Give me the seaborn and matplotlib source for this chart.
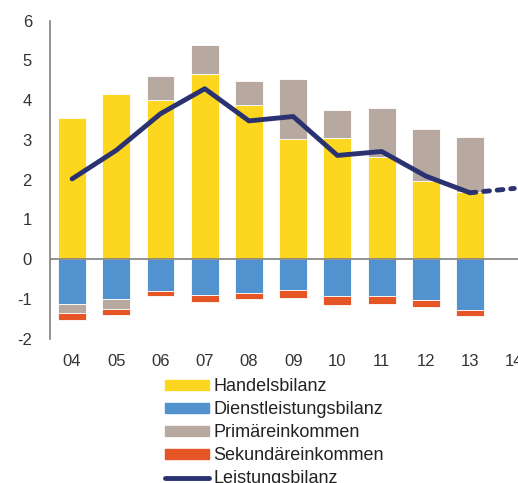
import matplotlib
matplotlib.use("Agg")
import matplotlib.pyplot as plt
import seaborn as sns
import numpy as np
import pandas as pd
from matplotlib.patches import Patch
from matplotlib.lines import Line2D

years = ["04", "05", "06", "07", "08", "09", "10", "11", "12", "13"]
tick_labels = ["04", "05", "06", "07", "08", "09", "10", "11", "12", "13", "14"]
handel = [3.54, 4.16, 4.00, 4.65, 3.87, 3.02, 3.06, 2.57, 1.96, 1.68]
dienst = [-1.12, -1.01, -0.80, -0.91, -0.85, -0.78, -0.93, -0.94, -1.03, -1.29]
primaer = [-0.24, -0.25, 0.60, 0.73, 0.61, 1.51, 0.69, 1.23, 1.31, 1.40]
sekundaer = [-0.16, -0.15, -0.13, -0.18, -0.16, -0.19, -0.23, -0.19, -0.18, -0.13]
leistung = [2.02, 2.74, 3.66, 4.29, 3.48, 3.59, 2.61, 2.71, 2.09, 1.67]
forecast_x = ["13", "14"]
forecast_y = [1.67, 1.78]

C_HANDEL = "#FDD71F"
C_DIENST = "#5292CE"
C_PRIM = "#B8A9A0"
C_SEK = "#E65525"
C_LINE = "#2B3272"

sns.set_theme(style="white")
plt.rcParams["font.family"] = ["Liberation Sans", "DejaVu Sans"]
plt.rcParams["axes.unicode_minus"] = False

df = pd.DataFrame({"year": years, "handel": handel, "dienst": dienst,
                   "primaer": primaer, "sekundaer": sekundaer, "leistung": leistung})

# Build stacked segments (positive stack upward, negative stack downward)
pos_base = np.zeros(len(df))
neg_base = np.zeros(len(df))
segments = []
for col, color in [("handel", C_HANDEL), ("dienst", C_DIENST), ("primaer", C_PRIM), ("sekundaer", C_SEK)]:
    vals = df[col].to_numpy()
    bottom = np.where(vals >= 0, pos_base, neg_base)
    segments.append((vals, bottom, color))
    pos_base = pos_base + np.where(vals >= 0, vals, 0)
    neg_base = neg_base + np.where(vals < 0, vals, 0)

fig = plt.figure(figsize=(5.18, 4.83), dpi=100)
ax = fig.add_axes([0.0965, 0.299, 0.939, 0.658])

for vals, bottom, color in segments:
    sns.barplot(x=df["year"], y=vals, bottom=bottom, color=color, width=0.63,
                ax=ax, saturation=1, edgecolor="white", linewidth=0.6, order=years)

xpos = np.arange(len(years))
sns.lineplot(x=xpos, y=df["leistung"], color=C_LINE, linewidth=3.5, ax=ax,
             solid_capstyle="round", solid_joinstyle="round")
fx = [tick_labels.index(v) for v in forecast_x]
ax.plot(fx, forecast_y, color=C_LINE, linewidth=3.5, linestyle=(0, (1.2, 1.6)),
        dash_capstyle="round")

ax.axhline(0, color="#808080", linewidth=1.2, zorder=1.5)
ax.set_xlim(-0.5, 10.5)
ax.set_ylim(-2, 6)
ax.set_yticks(range(-2, 7))
ax.set_xticks(range(len(tick_labels)))
ax.set_xticklabels(tick_labels)
ax.set_xlabel("")
ax.set_ylabel("")
ax.tick_params(axis="both", labelsize=12, colors="#333333", length=0)
ax.tick_params(axis="x", pad=11)
ax.tick_params(axis="y", pad=13)
for s in ["top", "right", "bottom"]:
    ax.spines[s].set_visible(False)
ax.spines["left"].set_color("#808080")
ax.spines["left"].set_linewidth(1.2)

handles = [Patch(color=C_HANDEL), Patch(color=C_DIENST), Patch(color=C_PRIM), Patch(color=C_SEK),
           Line2D([0], [0], color=C_LINE, linewidth=3.5, solid_capstyle="round")]
labels = ["Handelsbilanz", "Dienstleistungsbilanz", "Primäreinkommen", "Sekundäreinkommen", "Leistungsbilanz"]
fig.legend(handles, labels, loc="upper left", bbox_to_anchor=(0.3185, 0.217), frameon=False,
           fontsize=13, handlelength=2.45, handleheight=0.48, labelspacing=0.335,
           handletextpad=0.22, borderaxespad=0, borderpad=0, labelcolor="#222222")

fig.savefig("out.png", dpi=100)
